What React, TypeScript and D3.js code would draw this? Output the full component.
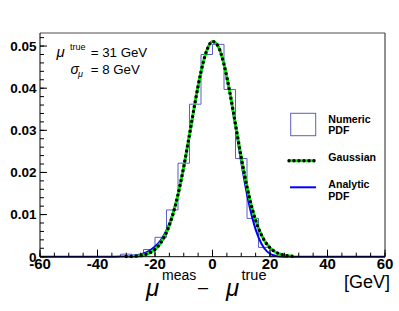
import React from "react";
import * as d3 from "d3";

// ---- data ----
const binEdgesLow = [-32, -28, -24, -20, -16, -12, -8, -4, 0, 4, 8, 12, 16];
const binValues = [0.0006, 0.0, 0.0017, 0.0046, 0.0111, 0.0222, 0.0362, 0.048, 0.0504, 0.0397, 0.0233, 0.0091, 0.0022];
const binWidth = 4;

const gaussX = [-30, -28, -26, -24, -22, -20, -18, -16, -14, -12, -10, -8, -6, -4, -2, 0, 2, 4, 6, 8, 10, 12, 14, 16, 18, 20, 22, 24, 26, 28];
const gaussY = [0.00003, 0.00007, 0.00017, 0.0004, 0.00086, 0.00173, 0.00326, 0.00576, 0.00952, 0.01474, 0.02136, 0.02901, 0.03689, 0.0439, 0.04893, 0.0511, 0.0499, 0.04566, 0.03913, 0.0314, 0.02359, 0.01659, 0.01093, 0.00675, 0.00389, 0.0021, 0.00107, 0.00051, 0.00022, 0.00009];

const pdfX = [-60, -34, -32, -30, -28, -26, -24, -22, -20, -18, -16, -14, -12, -10, -8, -6, -4, -2, 0, 2, 4, 6, 8, 10, 12, 14, 16, 18, 20, 22, 24, 26, 60];
const pdfY = [0, 0, 0.00002, 0.00008, 0.0002, 0.0004, 0.0008, 0.0014, 0.0024, 0.0039, 0.0063, 0.0099, 0.0149, 0.0212, 0.0286, 0.0366, 0.0438, 0.049, 0.0511, 0.05, 0.0456, 0.0388, 0.0307, 0.0224, 0.0148, 0.0088, 0.0046, 0.002, 0.0007, 0.0002, 0.00004, 0, 0];

const xTickValues = [-60, -40, -20, 0, 20, 40, 60];
const xTickLabels = ["-60", "-40", "-20", "0", "20", "40", "60"];
const yTickValues = [0, 0.01, 0.02, 0.03, 0.04, 0.05];
const yTickLabels = ["0", "0.01", "0.02", "0.03", "0.04", "0.05"];

const legendLabels = [["Numeric", "PDF"], ["Gaussian"], ["Analytic", "PDF"]];

const HIST_COLOR = "#5b5fc7";
const SANS = "'Liberation Sans', Arial, Helvetica, sans-serif";

export default function App() {
  const W = 399, H = 311;
  const left = 40, right = 385, top = 33, bottom = 256.7;
  const x = d3.scaleLinear().domain([-60, 60]).range([left, right]);
  const y = d3.scaleLinear().domain([0, 0.0531]).range([bottom, top]);

  // histogram outline (step contour)
  const histPts: [number, number][] = [];
  histPts.push([x(-60), y(0)]);
  let prev = 0;
  binEdgesLow.forEach((lo, i) => {
    histPts.push([x(lo), y(prev)]);
    histPts.push([x(lo), y(binValues[i])]);
    prev = binValues[i];
  });
  const lastEdge = binEdgesLow[binEdgesLow.length - 1] + binWidth;
  histPts.push([x(lastEdge), y(prev)]);
  histPts.push([x(lastEdge), y(0)]);
  histPts.push([x(60), y(0)]);
  const histPath = d3.line()(histPts) || "";

  const gaussPath = d3
    .line<number>()
    .x((d, i) => x(gaussX[i]))
    .y((d) => y(d))
    .curve(d3.curveMonotoneX)(gaussY) || "";
  const pdfPath = d3
    .line<number>()
    .x((d, i) => x(pdfX[i]))
    .y((d) => y(d))
    .curve(d3.curveMonotoneX)(pdfY) || "";

  const xMinor = d3.range(-60, 60.001, 5);
  const yMinor = d3.range(0, 0.0531, 0.002);

  return (
    <svg width={W} height={H} style={{ position: "absolute", left: 0, top: 0, background: "#fff" }} fontFamily={SANS}>
      <rect x={0} y={0} width={W} height={H} fill="#fff" />
      {/* histogram */}
      <path d={histPath} fill="none" stroke={HIST_COLOR} strokeWidth={1} />
      {/* analytic pdf */}
      <path d={pdfPath} fill="none" stroke="#0000ff" strokeWidth={2} />
      {/* gaussian */}
      <path d={gaussPath} fill="none" stroke="#00ee00" strokeWidth={3} />
      <path d={gaussPath} fill="none" stroke="#000" strokeWidth={3.4} strokeDasharray="0 5" strokeLinecap="round" />

      {/* frame */}
      <line x1={left} x2={right} y1={top} y2={top} stroke="#888" strokeWidth={1.5} />
      <line x1={right} x2={right} y1={top} y2={bottom} stroke="#222" strokeWidth={1} />
      <line x1={left} x2={left} y1={top} y2={bottom} stroke="#000" strokeWidth={1} />
      <line x1={left} x2={right} y1={bottom} y2={bottom} stroke="#000" strokeWidth={1} />

      {/* y ticks */}
      {yMinor.map((v, i) => (
        <line key={"ym" + i} x1={left} x2={left + 4} y1={y(v)} y2={y(v)} stroke="#000" strokeWidth={1} />
      ))}
      {yTickValues.map((v, i) => (
        <g key={"yt" + i}>
          <line x1={left} x2={left + 7} y1={y(v)} y2={y(v)} stroke="#000" strokeWidth={1} />
          <text x={36.5} y={y(v)} dy="0.36em" textAnchor="end" fontSize={13.5} fontWeight="bold">
            {yTickLabels[i]}
          </text>
        </g>
      ))}

      {/* x ticks */}
      {xMinor.map((v, i) => (
        <line key={"xm" + i} x1={x(v)} x2={x(v)} y1={bottom} y2={bottom - 4} stroke="#000" strokeWidth={1} />
      ))}
      {xTickValues.map((v, i) => (
        <g key={"xt" + i}>
          <line x1={x(v)} x2={x(v)} y1={bottom} y2={bottom - 7} stroke="#000" strokeWidth={1} />
          <text x={x(v)} y={269} textAnchor="middle" fontSize={15} fontWeight="bold">
            {xTickLabels[i]}
          </text>
        </g>
      ))}

      {/* axis unit and title */}
      <text x={390} y={288} textAnchor="end" fontSize={18}>
        [GeV]
      </text>
      <text x={146} y={296} fontSize={24} fontStyle="italic">μ</text>
      <text x={162} y={280} fontSize={14}>meas</text>
      <text x={198} y={293} fontSize={18}>–</text>
      <text x={226} y={296} fontSize={24} fontStyle="italic">μ</text>
      <text x={241.5} y={280} fontSize={14.5}>true</text>

      {/* annotation */}
      <text x={56.5} y={56.7} fontSize={15} fontStyle="italic">μ</text>
      <text x={70} y={50} fontSize={9}>true</text>
      <text x={90.7} y={56.7} fontSize={13.3}>= 31 GeV</text>
      <text x={70.5} y={74} fontSize={14} fontStyle="italic">σ</text>
      <text x={78} y={77} fontSize={9} fontStyle="italic">μ</text>
      <text x={90.7} y={74} fontSize={13.3}>= 8 GeV</text>

      {/* legend */}
      <rect x={290.7} y={113.3} width={25} height={22.4} fill="none" stroke={HIST_COLOR} strokeWidth={1} />
      <line x1={289} x2={315} y1={160.7} y2={160.7} stroke="#00ee00" strokeWidth={3} />
      <line x1={289} x2={315} y1={160.7} y2={160.7} stroke="#000" strokeWidth={3.4} strokeDasharray="0 5" strokeLinecap="round" />
      <line x1={290} x2={316} y1={187.3} y2={187.3} stroke="#0000ff" strokeWidth={2} />
      <text fontSize={10.6} fontWeight="bold">
        <tspan x={328.3} y={122.6}>{legendLabels[0][0]}</tspan>
        <tspan x={328.3} y={134.2}>{legendLabels[0][1]}</tspan>
        <tspan x={328.3} y={161}>{legendLabels[1][0]}</tspan>
        <tspan x={328.3} y={187.7}>{legendLabels[2][0]}</tspan>
        <tspan x={328.3} y={199.8}>{legendLabels[2][1]}</tspan>
      </text>
    </svg>
  );
}
